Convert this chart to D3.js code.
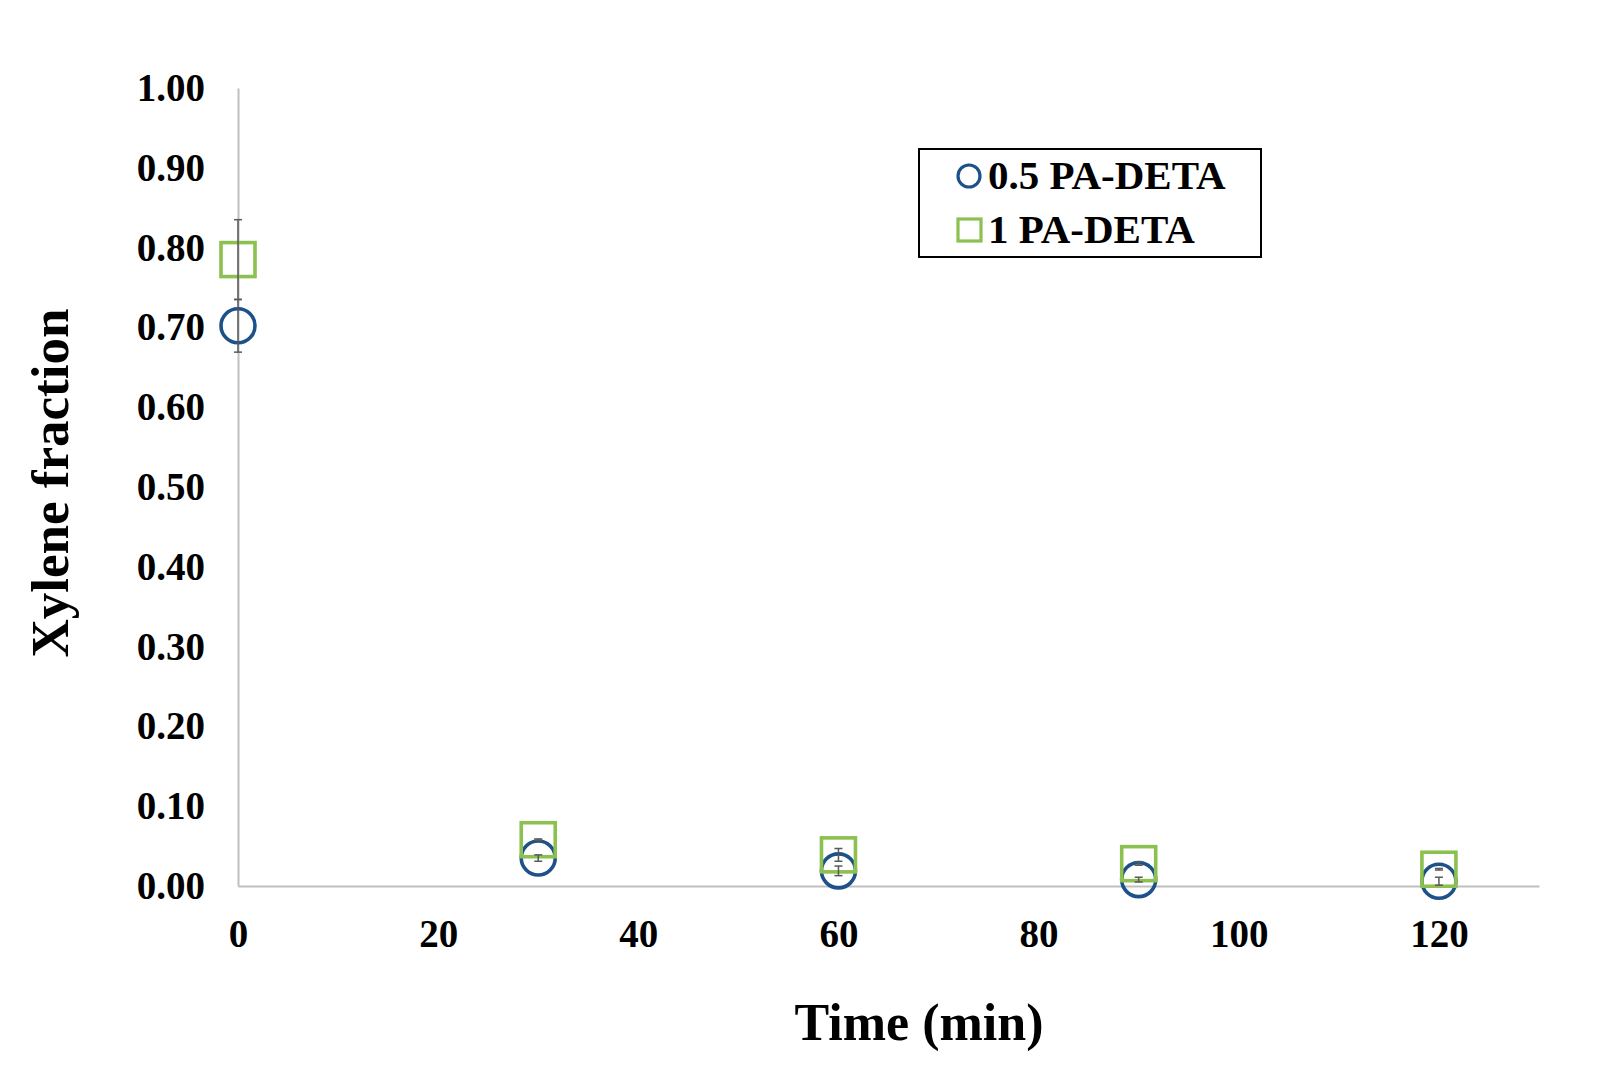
<!DOCTYPE html>
<html lang="en">
<head><meta charset="utf-8"><title>Xylene fraction</title>
<style>
  body { margin: 0; background: #fff; }
  text { font-family: "Liberation Serif", "Times New Roman", serif; font-weight: bold; fill: #000; }
</style>
</head>
<body>
<svg width="1604" height="1079"></svg>

<script src="https://cdn.jsdelivr.net/npm/d3@7"></script>
<script>
// time points (min)
var times = [0, 30, 60, 90, 120];

// 0.5 PA-DETA (circles)
var halfValues = [0.702, 0.035, 0.019, 0.008, 0.006];
var halfErrors = [0.033, 0.004, 0.006, 0.003, 0.005];

// 1 PA-DETA (squares)
var oneValues = [0.785, 0.058, 0.039, 0.028, 0.021];
var oneErrors = [0.050, 0.001, 0.008, 0.002, 0.001];

var xTicks = [0, 20, 40, 60, 80, 100, 120];
var yTicks = [0, 0.1, 0.2, 0.3, 0.4, 0.5, 0.6, 0.7, 0.8, 0.9, 1.0];

var svg = d3.select("svg");

var x = d3.scaleLinear().domain([0, 130]).range([238, 1539]);
var y = d3.scaleLinear().domain([0, 1]).range([886, 88]);

var blue = "#1c5189", green = "#8cc04f", errColor = "#595959";

// axes (no tick marks, grey lines)
var xAxis = svg.append("g")
    .attr("transform", "translate(0," + y(0) + ")")
    .call(d3.axisBottom(x).tickValues(xTicks).tickSize(0).tickPadding(33).tickFormat(d3.format("d")));
var yAxis = svg.append("g")
    .attr("transform", "translate(" + x(0) + ",0)")
    .call(d3.axisLeft(y).tickValues(yTicks).tickSize(0).tickPadding(33).tickFormat(d3.format(".2f")));

[xAxis, yAxis].forEach(function(a) {
    a.select(".domain").attr("stroke", "#c0c0c0").attr("stroke-width", 2);
    a.selectAll("text")
        .attr("font-family", "Liberation Serif, Times New Roman, serif")
        .attr("font-weight", "bold")
        .attr("font-size", 39)
        .attr("fill", "#000");
});

// axis titles
svg.append("text")
    .attr("x", 919).attr("y", 1040)
    .attr("text-anchor", "middle")
    .attr("font-size", 52)
    .text("Time (min)");

svg.append("text")
    .attr("transform", "translate(68,483) rotate(-90)")
    .attr("text-anchor", "middle")
    .attr("font-size", 53)
    .text("Xylene fraction");

var half = times.map(function(t, i) { return { t: t, v: halfValues[i], e: halfErrors[i] }; });
var one = times.map(function(t, i) { return { t: t, v: oneValues[i], e: oneErrors[i] }; });

// markers: circles first, squares on top
svg.append("g").selectAll("circle").data(half).enter().append("circle")
    .attr("cx", function(d) { return x(d.t); })
    .attr("cy", function(d) { return y(d.v); })
    .attr("r", 17)
    .attr("fill", "none")
    .attr("stroke", blue)
    .attr("stroke-width", 3.6);

var sq = 34;
svg.append("g").selectAll("rect").data(one).enter().append("rect")
    .attr("x", function(d) { return x(d.t) - sq / 2; })
    .attr("y", function(d) { return y(d.v) - sq / 2; })
    .attr("width", sq).attr("height", sq)
    .attr("fill", "none")
    .attr("stroke", green)
    .attr("stroke-width", 3.6);

// error bars
function errorBars(data) {
    var g = svg.append("g").attr("stroke", errColor).attr("stroke-width", 1.5);
    data.forEach(function(d) {
        var cx = x(d.t), y1 = y(d.v + d.e), y2 = y(d.v - d.e);
        g.append("line").attr("x1", cx).attr("x2", cx).attr("y1", y1).attr("y2", y2);
        g.append("line").attr("x1", cx - 4).attr("x2", cx + 4).attr("y1", y1).attr("y2", y1);
        g.append("line").attr("x1", cx - 4).attr("x2", cx + 4).attr("y1", y2).attr("y2", y2);
    });
}
errorBars(half);
errorBars(one);

// legend
var legend = svg.append("g");
legend.append("rect")
    .attr("x", 919).attr("y", 149).attr("width", 342).attr("height", 108)
    .attr("fill", "#fff").attr("stroke", "#000").attr("stroke-width", 2);
legend.append("circle")
    .attr("cx", 969).attr("cy", 176).attr("r", 11)
    .attr("fill", "none").attr("stroke", blue).attr("stroke-width", 3.2);
legend.append("rect")
    .attr("x", 958).attr("y", 219).attr("width", 23).attr("height", 22)
    .attr("fill", "none").attr("stroke", green).attr("stroke-width", 3.2);
legend.append("text").attr("x", 988).attr("y", 189).attr("font-size", 41).text("0.5 PA-DETA");
legend.append("text").attr("x", 988).attr("y", 243).attr("font-size", 41).text("1 PA-DETA");
</script>
</body>
</html>
